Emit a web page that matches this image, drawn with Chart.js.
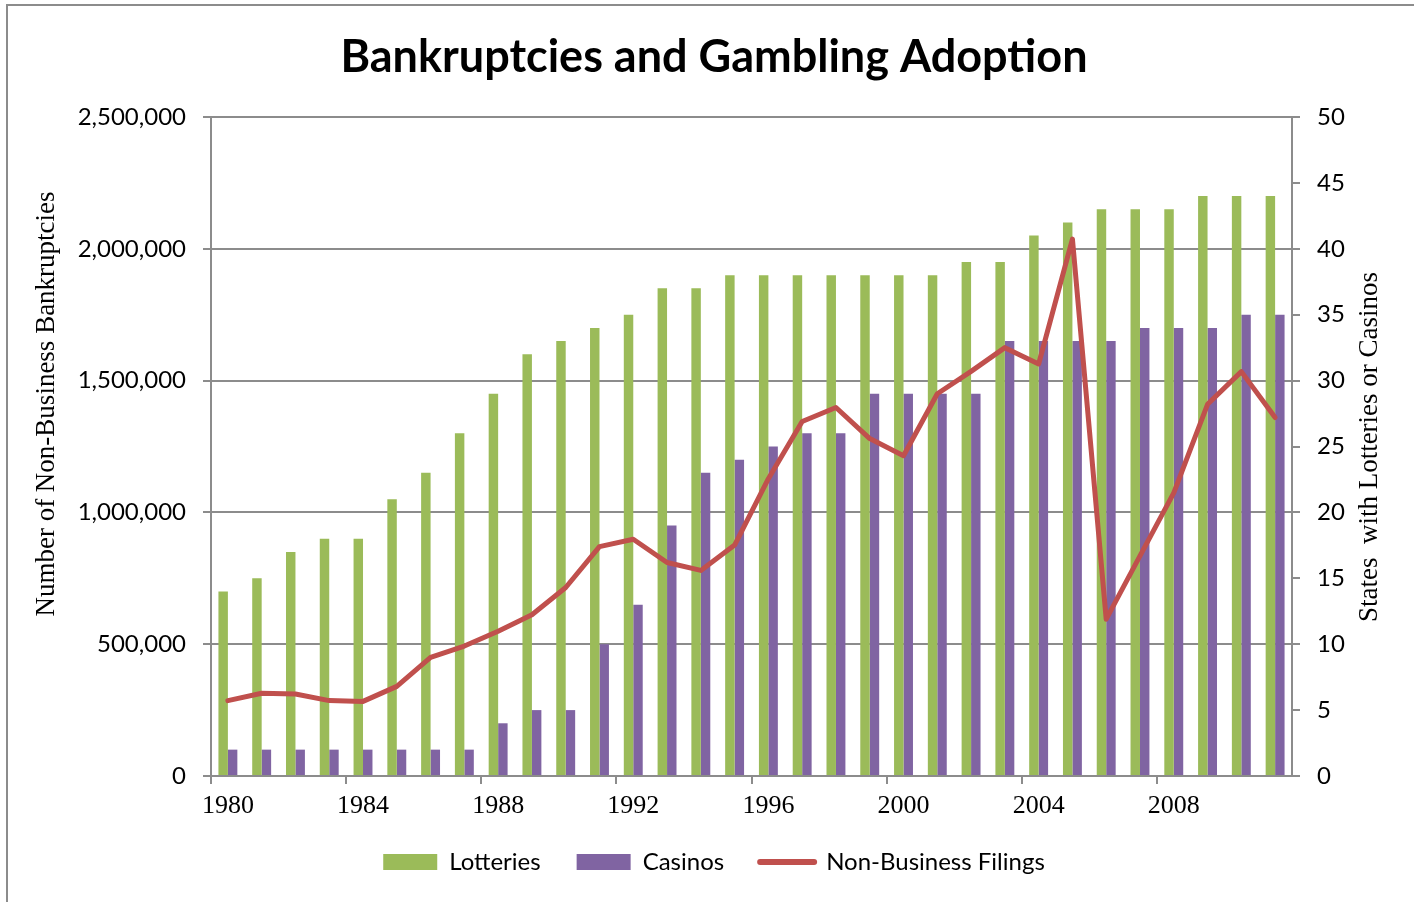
<!DOCTYPE html>
<html lang="en">
<head>
    <meta charset="UTF-8">
    <title>Bankruptcies and Gambling Adoption</title>
    <style>
        html, body { margin: 0; padding: 0; background: #ffffff; overflow: hidden; }
        .frame { position: absolute; left: 6px; top: 4px; width: 2000px; height: 2000px; border: 2px solid #8c8c8c; }
        #myChart { position: absolute; left: 0; top: 0; }
    </style>
</head>
<body>
    <div class="frame"></div>
    <canvas id="myChart" width="1414" height="902"></canvas>

    <script src="https://cdn.jsdelivr.net/npm/chart.js"></script>
    <script>
        // Data
        const years = ['1980', '1981', '1982', '1983', '1984', '1985', '1986', '1987', '1988', '1989',
                       '1990', '1991', '1992', '1993', '1994', '1995', '1996', '1997', '1998', '1999',
                       '2000', '2001', '2002', '2003', '2004', '2005', '2006', '2007', '2008', '2009',
                       '2010', '2011'];
        const lotteries = [14, 15, 17, 18, 18, 21, 23, 26, 29, 32, 33, 34, 35, 37, 37, 38,
                           38, 38, 38, 38, 38, 38, 39, 39, 41, 42, 43, 43, 43, 44, 44, 44];
        const casinos = [2, 2, 2, 2, 2, 2, 2, 2, 4, 5, 5, 10, 13, 19, 23, 24,
                         25, 26, 26, 29, 29, 29, 29, 33, 33, 33, 33, 34, 34, 34, 35, 35];
        const filings = [286000, 314000, 311000, 286000, 283000, 340000, 450000, 493000,
                         549000, 612000, 715000, 870000, 898000, 810000, 780000, 876000,
                         1128000, 1345000, 1398000, 1280000, 1215000, 1450000, 1535000, 1625000,
                         1563000, 2037000, 595000, 835000, 1074000, 1410000, 1534000, 1360000];
        const leftTicks = [0, 500000, 1000000, 1500000, 2000000, 2500000];
        const rightTicks = [0, 5, 10, 15, 20, 25, 30, 35, 40, 45, 50];

        const leftTitle = 'Number of Non-Business Bankruptcies';
        const rightTitle = 'States  with Lotteries or Casinos';

        const gridGray = '#8c8c8c';

        // Axis titles are drawn by hand so both read bottom-to-top like the original
        const axisTitles = {
            id: 'axisTitles',
            afterDraw(chart) {
                const c = chart.ctx;
                [[leftTitle, 47, 404], [rightTitle, 1370, 447]].forEach(([text, x, y]) => {
                    c.save();
                    c.fillStyle = '#000';
                    c.font = '27px "Liberation Serif"';
                    c.textAlign = 'center';
                    c.textBaseline = 'middle';
                    c.translate(x, y);
                    c.rotate(-Math.PI / 2);
                    c.fillText(text, 0, 0);
                    c.restore();
                });
            }
        };

        const ctx = document.getElementById('myChart').getContext('2d');
        const myChart = new Chart(ctx, {
            type: 'bar',
            data: {
                labels: years,
                datasets: [
                    {
                        label: 'Lotteries',
                        data: lotteries,
                        yAxisID: 'y2',
                        backgroundColor: '#9BBB59',
                        borderWidth: 0,
                        pointStyle: 'rect',
                        barPercentage: 1,
                        categoryPercentage: 0.56,
                        order: 1
                    },
                    {
                        label: 'Casinos',
                        data: casinos,
                        yAxisID: 'y2',
                        backgroundColor: '#8064A2',
                        borderWidth: 0,
                        pointStyle: 'rect',
                        barPercentage: 1,
                        categoryPercentage: 0.56,
                        order: 2
                    },
                    {
                        type: 'line',
                        label: 'Non-Business Filings',
                        data: filings,
                        yAxisID: 'y',
                        borderColor: '#C0504D',
                        backgroundColor: '#C0504D',
                        borderWidth: 5,
                        borderCapStyle: 'round',
                        borderJoinStyle: 'round',
                        pointRadius: 0,
                        pointBorderWidth: 5,
                        pointBorderColor: '#C0504D',
                        pointStyle: 'line',
                        tension: 0,
                        order: 0
                    }
                ]
            },
            options: {
                responsive: false,
                animation: false,
                devicePixelRatio: 1,
                layout: { padding: { left: 14, right: 0, top: 0, bottom: 18 } },
                plugins: {
                    title: {
                        display: true,
                        text: 'Bankruptcies and Gambling Adoption',
                        color: '#000',
                        font: { family: 'Lato', size: 45, weight: 'bold' },
                        padding: { top: 30, bottom: 33 }
                    },
                    legend: {
                        position: 'bottom',
                        labels: {
                            usePointStyle: true,
                            pointStyleWidth: 54,
                            boxHeight: 16,
                            padding: 36,
                            color: '#000',
                            font: { family: 'Lato', size: 24 },
                            sort: (a, b) => a.datasetIndex - b.datasetIndex,
                            generateLabels: (chart) => {
                                const items = Chart.defaults.plugins.legend.labels.generateLabels(chart);
                                items.forEach(item => {
                                    item.lineCap = 'round';
                                    if (item.pointStyle === 'line') item.lineWidth = 6;
                                });
                                return items;
                            }
                        }
                    },
                    tooltip: { enabled: false }
                },
                scales: {
                    x: {
                        offset: true,
                        grid: {
                            offset: true,
                            drawOnChartArea: false,
                            drawTicks: true,
                            tickLength: 8,
                            lineWidth: 2,
                            color: (c) => (c.index % 4 === 0 ? gridGray : 'rgba(0,0,0,0)')
                        },
                        border: { color: gridGray, width: 2 },
                        ticks: {
                            autoSkip: false,
                            maxRotation: 0,
                            padding: 7,
                            color: '#000',
                            font: { family: 'Liberation Serif', size: 26 },
                            callback: function (value, index) {
                                return index % 4 === 0 ? years[index] : '';
                            }
                        },
                        afterFit: (scale) => { scale.height = 38; }
                    },
                    y: {
                        position: 'left',
                        min: 0,
                        max: 2500000,
                        afterBuildTicks: (scale) => { scale.ticks = leftTicks.map(v => ({ value: v })); },
                        grid: { color: gridGray, lineWidth: 2, tickLength: 8 },
                        border: { color: gridGray, width: 2 },
                        ticks: {
                            padding: 17,
                            color: '#000',
                            font: { family: 'Lato', size: 24 },
                            callback: (v) => Number(v).toLocaleString('en-US')
                        },
                        afterFit: (scale) => { scale.width = 197; }
                    },
                    y2: {
                        position: 'right',
                        min: 0,
                        max: 50,
                        afterBuildTicks: (scale) => { scale.ticks = rightTicks.map(v => ({ value: v })); },
                        grid: { drawOnChartArea: false, color: gridGray, lineWidth: 2, tickLength: 8 },
                        border: { color: gridGray, width: 2 },
                        ticks: {
                            padding: 17,
                            color: '#000',
                            font: { family: 'Lato', size: 24 }
                        },
                        afterFit: (scale) => { scale.width = 122; }
                    }
                }
            },
            plugins: [axisTitles]
        });
    </script>
</body>
</html>
